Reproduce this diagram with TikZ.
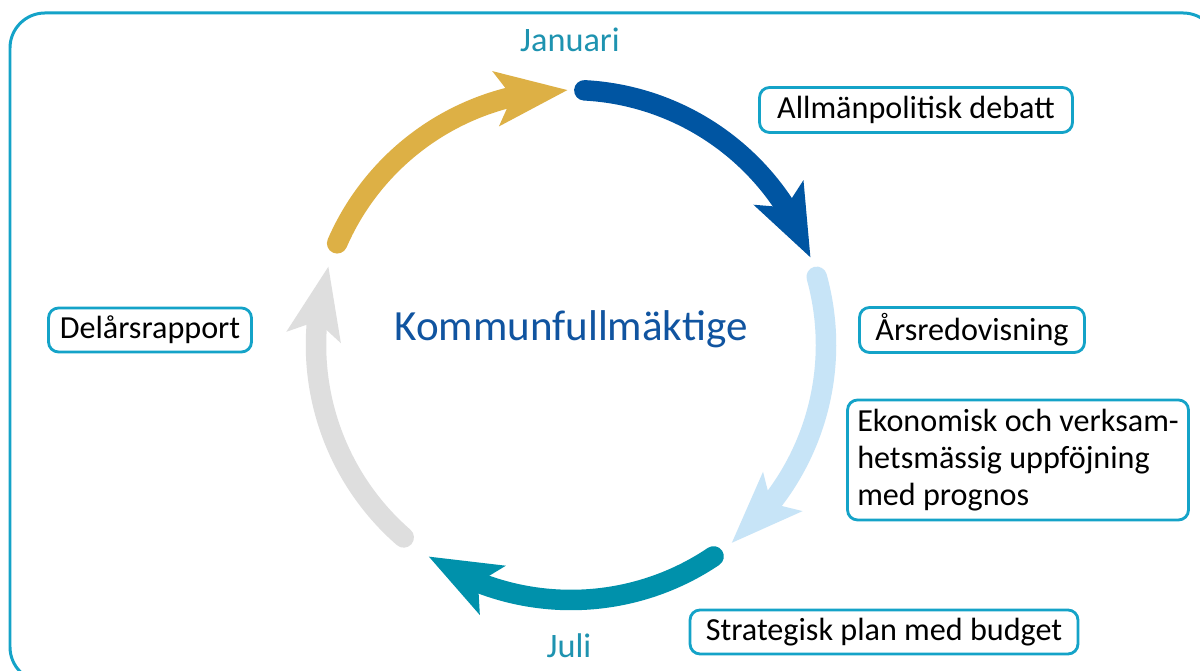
\documentclass[tikz,border=0pt]{standalone}
\usepackage{fontspec}
\setmainfont{Carlito}
\usetikzlibrary{arrows.meta,bending,calc}
\definecolor{cgold}{RGB}{221,176,69}
\definecolor{cblue}{RGB}{0,85,162}
\definecolor{clight}{RGB}{199,228,247}
\definecolor{cteal}{RGB}{0,145,171}
\definecolor{cgray}{RGB}{222,222,222}
\definecolor{cframe}{RGB}{20,163,200}
\definecolor{cmonth}{RGB}{30,147,176}
\definecolor{ctitle}{RGB}{16,84,160}
\tikzset{
  cyc/.style={line width=0.41cm, line cap=round,
    -{Stealth[length=1.42cm, width=1.06cm, inset=0.3cm]}},
  infobox/.style={draw=cframe, line width=1.6pt, rounded corners=0.2cm,
    font=\fontsize{18.3}{21}\selectfont, text=black, inner sep=0pt},
  month/.style={text=cmonth, font=\fontsize{19.5}{22}\selectfont},
}
\begin{document}
\begin{tikzpicture}[x=0.02cm,y=0.02cm]
\useasboundingbox (0,0) rectangle (1200,671);
\clip (0,0) rectangle (1200,671);
\fill[white] (0,0) rectangle (1200,671);
\draw[cframe, line width=1.7pt, rounded corners=0.7cm] (10,-11) rectangle (1218,658);
\coordinate (c) at (571,326);
% cycle arrows
\draw[cyc, cblue]  ($(c)+(87:255)$)  arc[start angle=87,  end angle=20,   radius=255];
\draw[cyc, clight] ($(c)+(15.5:255)$) arc[start angle=15.5, end angle=-51,  radius=255];
\draw[cyc, cteal]  ($(c)+(-56:255)$) arc[start angle=-56, end angle=-124, radius=255];
\draw[cyc, cgray]  ($(c)+(-131:255)$) arc[start angle=-131, end angle=-198, radius=255];
\draw[cyc, cgold]  ($(c)+(156.5:255)$) arc[start angle=156.5, end angle=90.7, radius=255];
% texts
\node[text=ctitle, font=\fontsize{24.5}{30}\selectfont] (title) at (571,342) {Kommunfullmäktige};
\node[month] (jan) at (570,631) {Januari};
\node[month] (jul) at (569,25) {Juli};
\node[infobox, minimum width=6.26cm, minimum height=0.9cm] (b1) at (916,561) {Allmänpolitisk debatt};
\node[infobox, minimum width=4.5cm, minimum height=0.9cm] (b2) at (972,341) {Årsredovisning};
\node[infobox, minimum width=6.82cm, minimum height=2.4cm, align=left] (b3) at (1018,211) {Ekonomisk och verksam-\\hetsmässig uppföjning\\med prognos};
\node[infobox, minimum width=7.76cm, minimum height=0.88cm] (b4) at (884,39) {Strategisk plan med budget};
\node[infobox, minimum width=4.06cm, minimum height=0.88cm] (b5) at (150,341) {Delårsrapport};
\end{tikzpicture}
\end{document}
